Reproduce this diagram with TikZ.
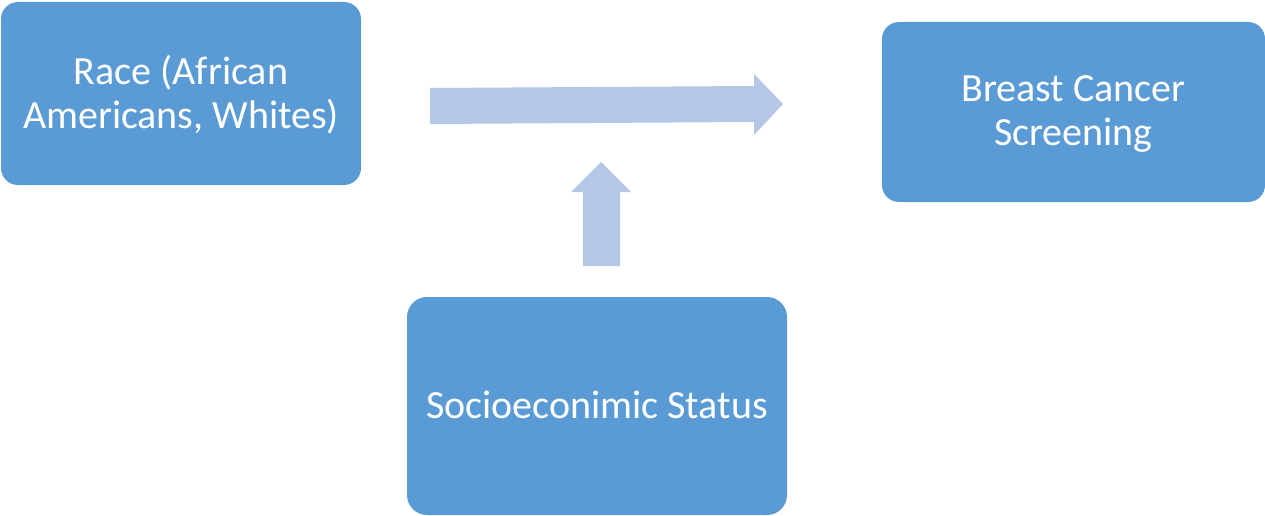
\documentclass[tikz,border=0pt]{standalone}
\usepackage{fontspec}
\setmainfont{Carlito}
\begin{document}
\begin{tikzpicture}[x=1pt,y=-1pt,
  box/.style={fill=boxblue, draw=none, rounded corners=17pt, inner sep=0pt},
  boxtext/.style={text=white, align=center, inner sep=0pt,
    font=\fontsize{40}{44}\selectfont},
  blockarrow/.style={fill=arrowblue, draw=none}]
  \definecolor{boxblue}{HTML}{5B9BD5}
  \definecolor{arrowblue}{HTML}{B4C7E7}
  \useasboundingbox (0,0) rectangle (1265,516);

  % the three factor boxes
  \node[box, minimum width=360pt, minimum height=183pt] (race) at (181,93.5) {};
  \node[boxtext] (racetext) at ([yshift=-1.5pt]race.center)
    {Race (African\\Americans, Whites)};
  \node[box, minimum width=383pt, minimum height=180pt] (screen) at (1073.5,112) {};
  \node[boxtext] (screentext) at ([yshift=-2pt]screen.center)
    {Breast Cancer\\Screening};
  \node[box, minimum width=380pt, minimum height=218pt, rounded corners=20pt] (ses) at (597,406) {};
  \node[boxtext] (sestext) at ([yshift=1pt]ses.center) {Socioeconimic Status};

  % block arrow: race towards screening
  \coordinate (hstart) at (430,106);
  \coordinate (htip) at (783,104);
  \fill[blockarrow] (hstart) ++(0,-18) -- (754,86) -- (754,74) -- (htip)
    -- (754,135) -- (754,122) -- (430,124) -- cycle;

  % block arrow: status pointing up at the main arrow
  \coordinate (vstart) at (601,266);
  \coordinate (vtip) at (601,162);
  \fill[blockarrow] (583,266) -- (583,192) -- (571,192) -- (vtip)
    -- (631,192) -- (620,192) -- (620,266) -- cycle;
\end{tikzpicture}
\end{document}
